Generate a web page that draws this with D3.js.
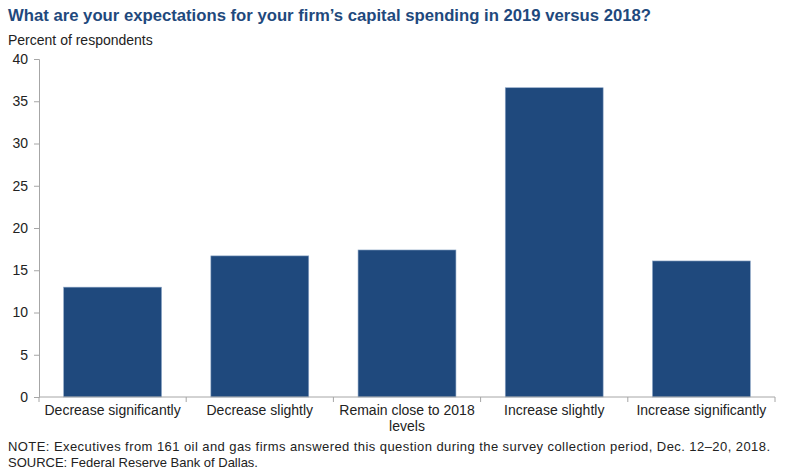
<!DOCTYPE html>
<html lang="en">
<head>
<meta charset="UTF-8">
<title>Capital spending expectations</title>
<script src="https://cdn.jsdelivr.net/npm/d3@7"></script>
<style>
  body { margin: 0; background: #fff; }
  svg text { font-family: "Liberation Sans", Arial, sans-serif; }
</style>
</head>
<body>
<div id="chart"></div>
<script>
  // data
  const categories = ["Decrease significantly", "Decrease slightly", "Remain close to 2018 levels", "Increase slightly", "Increase significantly"];
  const values = [13.0, 16.7, 17.4, 36.6, 16.1];
  const yTicks = [0, 5, 10, 15, 20, 25, 30, 35, 40];

  const width = 800, height = 473;
  const margin = { top: 59, right: 25, bottom: 76, left: 39 };

  const svg = d3.select("#chart").append("svg")
    .attr("width", width)
    .attr("height", height);

  const x = d3.scaleBand()
    .domain(categories)
    .range([margin.left, width - margin.right])
    .paddingInner(0.335)
    .paddingOuter(0.1675);

  const y = d3.scaleLinear()
    .domain([0, 40])
    .range([height - margin.bottom, margin.top]);

  const axisColor = "#a6a6a6";

  // bars
  svg.append("g").selectAll("rect")
    .data(values)
    .join("rect")
    .attr("x", (d, i) => x(categories[i]))
    .attr("y", d => y(d))
    .attr("width", x.bandwidth())
    .attr("height", d => y(0) - y(d))
    .attr("fill", "#1f497d")
    .attr("stroke", "#8ea7c7")
    .attr("stroke-width", 0.6);

  // y axis
  const yAxis = svg.append("g")
    .attr("transform", `translate(${margin.left},0)`)
    .call(d3.axisLeft(y).tickValues(yTicks).tickSize(5).tickPadding(6));
  yAxis.select(".domain").attr("stroke", axisColor);
  yAxis.selectAll(".tick line").attr("stroke", axisColor);
  yAxis.selectAll(".tick text").attr("font-size", 14).attr("fill", "#222")
    .attr("font-family", "Liberation Sans, Arial, sans-serif");

  // x axis line + boundary ticks
  const x0 = margin.left, x1 = width - margin.right;
  const xg = svg.append("g");
  xg.append("line")
    .attr("x1", x0).attr("x2", x1)
    .attr("y1", y(0)).attr("y2", y(0))
    .attr("stroke", axisColor);
  const step = x.step();
  const bounds = d3.range(categories.length + 1).map(i => x(categories[0]) - x.paddingOuter() * step + i * step);
  xg.selectAll("line.tk")
    .data(bounds)
    .join("line")
    .attr("class", "tk")
    .attr("x1", d => d).attr("x2", d => d)
    .attr("y1", y(0)).attr("y2", y(0) + 5)
    .attr("stroke", axisColor);

  // category labels (wrapped)
  const labelLines = categories.map(c => c === "Remain close to 2018 levels" ? ["Remain close to 2018", "levels"] : [c]);
  xg.selectAll("text.cat")
    .data(labelLines)
    .join("text")
    .attr("class", "cat")
    .attr("text-anchor", "middle")
    .attr("font-size", 14)
    .attr("fill", "#222")
    .each(function (lines, i) {
      const cx = x(categories[i]) + x.bandwidth() / 2;
      d3.select(this).selectAll("tspan")
        .data(lines)
        .join("tspan")
        .attr("x", cx)
        .attr("y", (d, j) => y(0) + 18 + j * 16)
        .text(d => d);
    });

  // title and subtitle
  svg.append("text")
    .attr("x", 8).attr("y", 21)
    .attr("font-size", 16.7)
    .attr("font-weight", "bold")
    .attr("fill", "#1f497d")
    .text("What are your expectations for your firm’s capital spending in 2019 versus 2018?");

  svg.append("text")
    .attr("x", 8).attr("y", 45)
    .attr("font-size", 14)
    .attr("fill", "#222")
    .text("Percent of respondents");

  // notes
  svg.append("text")
    .attr("x", 8).attr("y", 451)
    .attr("font-size", 13)
    .attr("fill", "#222")
    .attr("textLength", 762)
    .attr("lengthAdjust", "spacing")
    .text("NOTE: Executives from 161 oil and gas firms answered this question during the survey collection period, Dec. 12–20, 2018.");

  svg.append("text")
    .attr("x", 8).attr("y", 467)
    .attr("font-size", 13)
    .attr("fill", "#222")
    .text("SOURCE: Federal Reserve Bank of Dallas.");
</script>
</body>
</html>
